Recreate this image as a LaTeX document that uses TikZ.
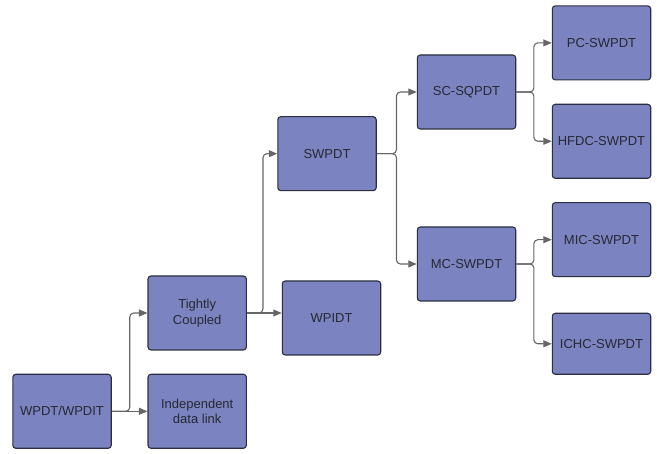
\documentclass[tikz,border=0pt]{standalone}
\usepackage{fontspec}
\setmainfont{Liberation Sans}
\usetikzlibrary{arrows.meta}
\definecolor{boxfill}{HTML}{7B84C0}
\definecolor{boxline}{HTML}{2B2E40}
\definecolor{linegray}{HTML}{666666}
\definecolor{txt}{HTML}{262833}
\begin{document}
\begin{tikzpicture}[x=1pt,y=-1pt,
  box/.style={draw=boxline, fill=boxfill, line width=1.1pt, rounded corners=3pt,
    minimum width=98.4pt, minimum height=74pt, inner sep=0pt, text=txt,
    font=\fontsize{13}{15.7}\selectfont, align=center},
  conn/.style={draw=linegray, line width=1.1pt, rounded corners=4pt,
    -{Triangle[length=8.5pt,width=7pt]}}]
\useasboundingbox (0,0) rectangle (657,454);
\node[box] (wpdt) at (62,411.3) {WPDT/WPDIT};
\node[box] (idl) at (197.2,411.3) {Independent\\data link};
\node[box] (tc) at (197.2,313) {Tightly\\Coupled};
\node[box] (wpidt) at (331.5,318) {WPIDT};
\node[box] (swpdt) at (327,153.7) {SWPDT};
\node[box] (scsq) at (466.5,92) {SC-SQPDT};
\node[box] (mc) at (466.5,264) {MC-SWPDT};
\node[box] (pc) at (601.5,42.9) {PC-SWPDT};
\node[box] (hfdc) at (601.5,141.3) {HFDC-SWPDT};
\node[box] (mic) at (601.5,239.7) {MIC-SWPDT};
\node[box, minimum height=61pt] (ichc) at (601.5,343.8) {ICHC-SWPDT};
\draw[conn] (wpdt.east) -- (idl.west);
\draw[conn] (wpdt.east) -- ++(18,0) |- (tc.west);
\draw[conn] (tc.east) -- (tc.east -| wpidt.west);
\draw[conn] (tc.east) -- ++(16,0) |- (swpdt.west);
\draw[conn] (swpdt.east) -- ++(19.7,0) |- (scsq.west);
\draw[conn] (swpdt.east) -- ++(19.7,0) |- (mc.west);
\draw[conn] (scsq.east) -- ++(17.6,0) |- (pc.west);
\draw[conn] (scsq.east) -- ++(17.6,0) |- (hfdc.west);
\draw[conn] (mc.east) -- ++(17.6,0) |- (mic.west);
\draw[conn] (mc.east) -- ++(17.6,0) |- (ichc.west);
\end{tikzpicture}
\end{document}
